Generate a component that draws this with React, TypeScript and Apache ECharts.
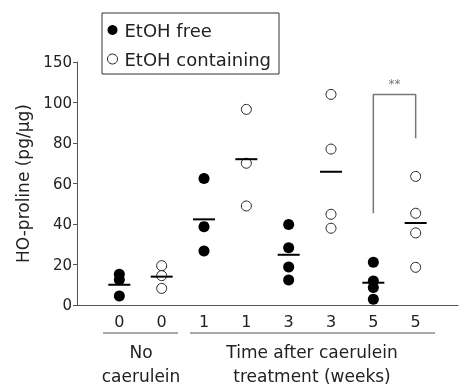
import React, { useEffect, useRef } from "react";
import * as echarts from "echarts";

const categories = ["0", "0", "1", "1", "3", "3", "5", "5"];
const yTickLabels = ["0", "20", "40", "60", "80", "100", "150"];

// values per category group (EtOH free: categories 0,2,4,6; EtOH containing: 1,3,5,7)
const freeGroups = [0, 2, 4, 6];
const freeValues = [
  [15.2, 12.5, 4.4],
  [62.5, 38.7, 26.7],
  [39.7, 28.3, 18.8, 12.3],
  [21.1, 11.9, 8.7, 2.8],
];
const containingGroups = [1, 3, 5, 7];
const containingValues = [
  [19.4, 14.5, 8.2],
  [96.6, 70, 48.9],
  [104, 77, 44.8, 37.9],
  [63.5, 45.3, 35.6, 18.6],
];
const meanValues = [10, 14, 42.3, 72, 24.8, 65.8, 11, 40.5];
const bracket: [number, number][] = [
  [6, 45.3],
  [6, 104],
  [7, 104],
  [7, 82.3],
];

const FONT = "DejaVu Sans";
const TXT = "#222";

export default function App() {
  const ref = useRef<HTMLDivElement>(null);
  useEffect(() => {
    if (!ref.current) return;
    const chart = echarts.init(ref.current, null, { renderer: "svg" });
    const freeData: number[][] = [];
    freeGroups.forEach((g, i) => freeValues[i].forEach((v) => freeData.push([g, v])));
    const contData: number[][] = [];
    containingGroups.forEach((g, i) =>
      containingValues[i].forEach((v) => contData.push([g, v]))
    );
    const meanData = meanValues.map((v, i) => [i, v]);

    chart.setOption({
      animation: false,
      textStyle: { fontFamily: FONT, color: TXT },
      grid: { left: 77, right: 1, top: 62, bottom: 81 },
      legend: {
        orient: "vertical",
        left: 102,
        top: 13,
        borderColor: "#333",
        borderWidth: 1,
        padding: [8, 8, 6, 5],
        itemGap: 11,
        itemWidth: 14,
        itemHeight: 10,
        textStyle: { fontFamily: FONT, fontSize: 18, color: TXT },
        data: [
          { name: "EtOH free", icon: "circle", itemStyle: { color: "#000" } },
          {
            name: "EtOH containing",
            icon: "circle",
            itemStyle: { color: "#fff", borderColor: "#222", borderWidth: 1 },
          },
        ],
      },
      xAxis: {
        type: "value",
        min: -1,
        max: 8,
        interval: 1,
        splitLine: { show: false },
        axisTick: { show: false },
        axisLine: { onZero: false, lineStyle: { color: "#555", width: 1 } },
        axisLabel: {
          margin: 8,
          fontSize: 16,
          color: TXT,
          fontFamily: FONT,
          formatter: (v: number) => categories[v] ?? "",
        },
      },
      yAxis: {
        type: "value",
        min: 0,
        max: 120,
        interval: 20,
        name: "HO-proline (pg/µg)",
        nameLocation: "middle",
        nameGap: 46,
        nameTextStyle: { fontSize: 17, color: TXT, fontFamily: FONT },
        splitLine: { show: false },
        axisLine: { show: true, onZero: false, lineStyle: { color: "#555", width: 1 } },
        axisTick: { show: true, length: 4, lineStyle: { color: "#555" } },
        axisLabel: {
          margin: 5,
          fontSize: 15,
          color: TXT,
          fontFamily: FONT,
          formatter: (v: number) => yTickLabels[Math.round(v / 20)] ?? "",
        },
      },
      series: [
        {
          name: "EtOH free",
          type: "scatter",
          symbol: "circle",
          symbolSize: 11,
          itemStyle: { color: "#000", opacity: 1 },
          data: freeData,
          z: 3,
        },
        {
          name: "EtOH containing",
          type: "scatter",
          symbol: "circle",
          symbolSize: 10,
          itemStyle: { color: "#fff", borderColor: "#222", borderWidth: 1, opacity: 1 },
          data: contData,
          z: 3,
        },
        {
          name: "mean",
          type: "scatter",
          symbol: "rect",
          symbolSize: [22, 2],
          itemStyle: { color: "#000", opacity: 1 },
          data: meanData,
          z: 4,
        },
        {
          name: "bracket",
          type: "line",
          symbol: "none",
          lineStyle: { color: "#777", width: 1.5 },
          data: bracket,
          z: 2,
        },
        {
          name: "significance",
          type: "scatter",
          symbolSize: 0,
          data: [[(bracket[1][0] + bracket[2][0]) / 2, bracket[1][1]]],
          label: {
            show: true,
            formatter: "**",
            position: "top",
            distance: 4,
            fontSize: 12,
            color: "#555",
            fontFamily: FONT,
          },
        },
      ],
      graphic: [
        { type: "line", shape: { x1: 103, y1: 333, x2: 178, y2: 333 }, style: { stroke: "#555", lineWidth: 1 } },
        { type: "line", shape: { x1: 190, y1: 333, x2: 435, y2: 333 }, style: { stroke: "#555", lineWidth: 1 } },
        {
          type: "text",
          x: 141,
          y: 340,
          style: {
            text: "No\ncaerulein",
            align: "center",
            fontSize: 17,
            lineHeight: 24,
            fill: TXT,
            fontFamily: FONT,
          },
        },
        {
          type: "text",
          x: 312,
          y: 340,
          style: {
            text: "Time after caerulein\ntreatment (weeks)",
            align: "center",
            fontSize: 17,
            lineHeight: 24,
            fill: TXT,
            fontFamily: FONT,
          },
        },
      ],
    });
    return () => chart.dispose();
  }, []);
  return (
    <div
      ref={ref}
      style={{ position: "fixed", left: 0, top: 0, width: 461, height: 386 }}
    />
  );
}
